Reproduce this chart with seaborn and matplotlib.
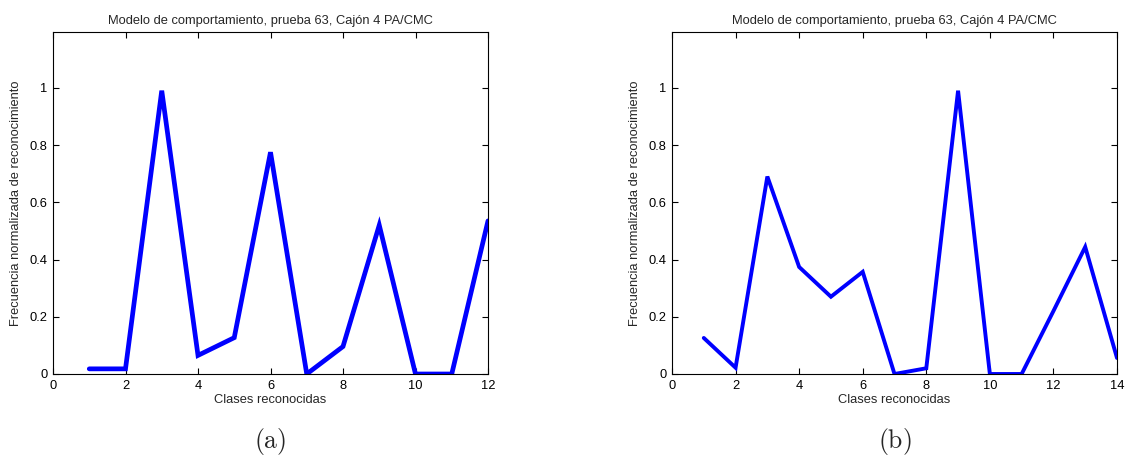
import matplotlib
matplotlib.use("Agg")
import matplotlib.pyplot as plt
import seaborn as sns
import pandas as pd

# ---- data ----
clases_a = [1, 2, 3, 4, 5, 6, 7, 8, 9, 10, 11, 12]
frec_a = [0.018, 0.018, 0.99, 0.065, 0.127, 0.775, 0.0, 0.096, 0.52, 0.0, 0.0, 0.535]

clases_b = [1, 2, 3, 4, 5, 6, 7, 8, 9, 10, 11, 12, 13, 14]
frec_b = [0.126, 0.022, 0.69, 0.374, 0.27, 0.357, 0.0, 0.02, 0.99, 0.0, 0.0, 0.22, 0.444, 0.056]

titulo = "Modelo de comportamiento, prueba 63, Cajón 4 PA/CMC"
xlabel = "Clases reconocidas"
ylabel = "Frecuencia normalizada de reconocimiento"
yticks = [0, 0.2, 0.4, 0.6, 0.8, 1.0]
yticklabels = ["0", "0.2", "0.4", "0.6", "0.8", "1"]
xticks_a = [0, 2, 4, 6, 8, 10, 12]
xticks_b = [0, 2, 4, 6, 8, 10, 12, 14]
subcaps = ["(a)", "(b)"]

sns.set_style("ticks")
plt.rcParams['font.family'] = ['Liberation Sans', 'DejaVu Sans']
plt.rcParams['mathtext.fontset'] = 'cm'

fig = plt.figure(figsize=(11.3, 4.62), dpi=100)
ax1 = fig.add_axes([53/1130, 88/462, 435/1130, 342/462])
ax2 = fig.add_axes([672/1130, 88/462, 445/1130, 342/462])

specs = [
    (ax1, clases_a, frec_a, xticks_a, 12, 3.4, subcaps[0]),
    (ax2, clases_b, frec_b, xticks_b, 14, 2.8, subcaps[1]),
]
for ax, xs, ys, xt, xmax, lw, cap in specs:
    df = pd.DataFrame({"x": xs, "y": ys})
    sns.lineplot(data=df, x="x", y="y", ax=ax, color=(0, 0, 1), linewidth=lw,
                 solid_joinstyle="miter", clip_on=True)
    ax.set_xlim(0, xmax)
    ax.set_ylim(0, 1.195)
    ax.set_xticks(xt)
    ax.set_xticklabels([str(v) for v in xt])
    ax.set_yticks(yticks)
    ax.set_yticklabels(yticklabels)
    ax.tick_params(direction="in", length=4, width=0.8, top=True, right=True,
                   labelsize=9.3, pad=4, colors="black")
    for s in ax.spines.values():
        s.set_visible(True)
        s.set_linewidth(0.8)
        s.set_color("black")
    ax.set_title(titulo, fontsize=9.3, pad=6)
    ax.set_xlabel(xlabel, fontsize=9.3, labelpad=2)
    ax.set_ylabel(ylabel, fontsize=9.3, labelpad=5)
    ax.text(0.5, -0.196, r"$\mathrm{" + cap + "}$", transform=ax.transAxes,
            ha="center", va="center", fontsize=18.5)

fig.savefig("out.png", dpi=100, facecolor="white")
